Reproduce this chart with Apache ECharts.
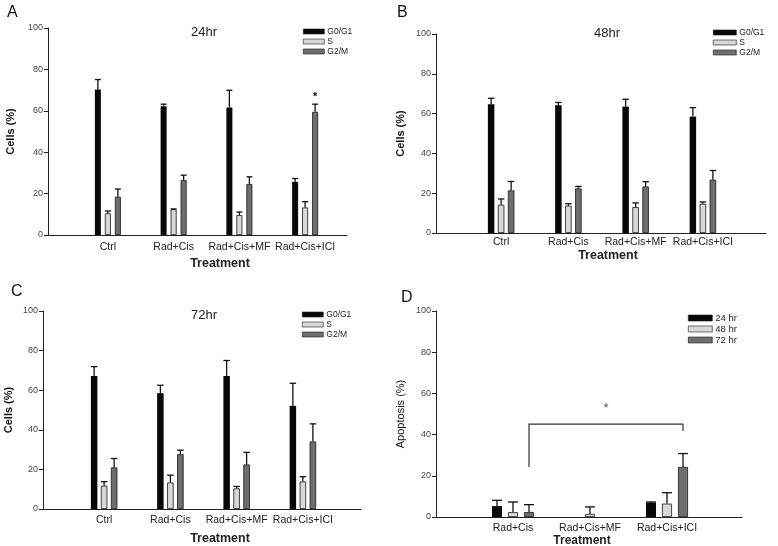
<!DOCTYPE html>
<html>
<head>
<meta charset="utf-8">
<script src="https://cdn.jsdelivr.net/npm/echarts@6/dist/echarts.min.js"></script>
<style>
html, body { margin: 0; padding: 0; background: #fff; }
#main { width: 778px; height: 546px; }
</style>
</head>
<body>
<div id="main"></div>
<script>
var cats = ['Ctrl', 'Rad+Cis', 'Rad+Cis+MF', 'Rad+Cis+ICI'];
var phases = ['G0/G1', 'S', 'G2/M'];

// cell cycle, mean and mean+error (top of whisker)
var g1_24 = [70.3, 62.2, 61.6, 25.7];
var g1_24_top = [75.1, 63.2, 69.9, 27.3];
var s_24 = [10.5, 12.4, 9.6, 13.3];
var s_24_top = [11.6, 12.6, 11.1, 16.1];
var g2_24 = [18.5, 26.5, 24.6, 59.5];
var g2_24_top = [22.2, 28.9, 28.1, 63.2];
var g2_24_sig = ['', '', '', '*'];

var g1_48 = [64.7, 64.2, 63.5, 58.5];
var g1_48_top = [67.7, 65.6, 67.2, 63.0];
var s_48 = [14.2, 13.7, 13.0, 14.7];
var s_48_top = [17.1, 14.7, 15.1, 15.6];
var g2_48 = [21.4, 22.4, 23.4, 26.8];
var g2_48_top = [25.9, 23.4, 25.8, 31.4];

var g1_72 = [67.2, 58.5, 67.2, 52.1];
var g1_72_top = [71.9, 62.5, 75.0, 63.5];
var s_72 = [11.8, 13.4, 10.4, 13.9];
var s_72_top = [13.8, 17.1, 11.4, 16.3];
var g2_72 = [21.0, 27.7, 22.5, 34.1];
var g2_72_top = [25.5, 29.7, 28.6, 43.0];

// apoptosis
var dCats = ['Rad+Cis', 'Rad+Cis+MF', 'Rad+Cis+ICI'];
var times = ['24 hr', '48 hr', '72 hr'];
var apo24 = [5.3, null, 7.0];
var apo24_top = [8.1, null, 7.3];
var apo48 = [2.4, 1.5, 6.5];
var apo48_top = [7.3, 4.9, 11.8];
var apo72 = [2.4, null, 24.3];
var apo72_top = [6.0, null, 30.8];
var bracketCats = [0, 2];      // Rad+Cis 72hr -> Rad+Cis+ICI 72hr
var bracketLevels = [24.3, 45.1, 41.7, 52.7]; // left foot, bar, right foot, star

var fills = ['#080808', '#d8d8d8', '#6e6e6e'];
var font = 'Liberation Sans, Arial, sans-serif';

var myChart = echarts.init(document.getElementById('main'));

var grids = [], xAxes = [], yAxes = [], series = [];

// frame grid holds the y axis and x axis line, bars grid holds the groups
function addPanel(p) {
    var gf = grids.length;
    grids.push({ left: p.left, top: p.top, width: p.width, height: p.height, outerBoundsMode: 'none' });
    grids.push({ left: p.barsLeft, top: p.top, width: p.barsWidth, height: p.height, outerBoundsMode: 'none' });
    xAxes.push({
        gridIndex: gf, type: 'category', data: [''],
        axisLine: { lineStyle: { color: '#222', width: 1 } },
        axisTick: { show: false }, axisLabel: { show: false }
    });
    yAxes.push({
        gridIndex: gf, type: 'value', min: 0, max: 100, interval: 20,
        axisLine: { show: true, lineStyle: { color: '#222', width: 1 } },
        axisTick: { show: true, length: 4, lineStyle: { color: '#222' } },
        axisLabel: { fontSize: 9, color: '#444', margin: 5, fontFamily: font },
        splitLine: { show: false },
        name: p.yName, nameLocation: 'middle', nameGap: p.yGap,
        nameTextStyle: { fontSize: 11, fontWeight: 'bold', color: '#111', fontFamily: font }
    });
    xAxes.push({
        gridIndex: gf + 1, type: 'category', data: p.cats,
        axisLine: { show: false }, axisTick: { show: false },
        axisLabel: { interval: 0, fontSize: 10.5, color: '#222', margin: p.labelMargin, fontFamily: font },
        name: 'Treatment', nameLocation: 'middle', nameGap: p.nameGap,
        nameTextStyle: { fontSize: p.nameSize || 12.5, fontWeight: 'bold', color: '#222', fontFamily: font, padding: p.namePad }
    });
    yAxes.push({ gridIndex: gf + 1, type: 'value', min: 0, max: 100, show: false });

    var n = p.groups.length;
    p.groups.forEach(function (g, k) {
        var offset = (k - (n - 1) / 2) * (p.barW + p.gap);
        series.push({
            name: g.name, type: 'bar', xAxisIndex: gf + 1, yAxisIndex: gf + 1,
            barWidth: p.barW, barGap: (p.gap / p.barW * 100) + '%',
            itemStyle: { color: fills[k], borderColor: '#1a1a1a', borderWidth: k === 0 ? 0 : 0.8 },
            data: g.mean, z: 2
        });
        var errData = [];
        g.mean.forEach(function (m, i) {
            if (m != null) errData.push([i, m, g.top[i]]);
        });
        series.push({
            type: 'custom', xAxisIndex: gf + 1, yAxisIndex: gf + 1, z: 3,
            data: errData, silent: true,
            renderItem: function (params, api) {
                var b = api.coord([api.value(0), api.value(1)]);
                var t = api.coord([api.value(0), api.value(2)]);
                var x = b[0] + offset;
                var half = p.barW / 2;
                var kids = [
                    { type: 'line', shape: { x1: x, y1: b[1], x2: x, y2: t[1] }, style: { stroke: '#111', lineWidth: 1.3 } },
                    { type: 'line', shape: { x1: x - half, y1: t[1], x2: x + half, y2: t[1] }, style: { stroke: '#111', lineWidth: 1.3 } }
                ];
                var s = g.sig ? g.sig[api.value(0)] : '';
                if (s) {
                    kids.push({ type: 'text', style: { text: s, x: x, y: t[1] - 2, fontSize: 11, fontWeight: 'bold',
                        fill: '#111', align: 'center', verticalAlign: 'bottom', fontFamily: font } });
                }
                return { type: 'group', children: kids };
            }
        });
    });
    return gf + 1;
}

addPanel({
    left: 48, top: 28, width: 299, height: 207, barsLeft: 75, barsWidth: 263,
    cats: cats, yName: 'Cells (%)', yGap: 32, labelMargin: 7, nameGap: 22, namePad: [0, 0, 0, 27],
    barW: 6, gap: 4,
    groups: [
        { name: 'G0/G1', mean: g1_24, top: g1_24_top },
        { name: 'S', mean: s_24, top: s_24_top },
        { name: 'G2/M', mean: g2_24, top: g2_24_top, sig: g2_24_sig }
    ]
});
addPanel({
    left: 436, top: 34, width: 330, height: 199, barsLeft: 467.5, barsWidth: 269,
    cats: cats, yName: 'Cells (%)', yGap: 30, labelMargin: 4, nameGap: 14, namePad: [0, 0, 0, 12],
    barW: 6.5, gap: 3.5,
    groups: [
        { name: 'G0/G1', mean: g1_48, top: g1_48_top },
        { name: 'S', mean: s_48, top: s_48_top },
        { name: 'G2/M', mean: g2_48, top: g2_48_top }
    ]
});
addPanel({
    left: 43, top: 311, width: 318, height: 198, barsLeft: 71, barsWidth: 265,
    cats: cats, yName: 'Cells (%)', yGap: 29, labelMargin: 6, nameGap: 23, namePad: [0, 0, 0, 33],
    barW: 6.5, gap: 3.5,
    groups: [
        { name: 'G0/G1', mean: g1_72, top: g1_72_top },
        { name: 'S', mean: s_72, top: s_72_top },
        { name: 'G2/M', mean: g2_72, top: g2_72_top }
    ]
});
var dBars = addPanel({
    left: 436, top: 311, width: 306, height: 206, barsLeft: 474.5, barsWidth: 231,
    cats: dCats, yName: 'Apoptosis (%)', yGap: 30, labelMargin: 6, nameGap: 17, namePad: [0, 16, 0, 0], nameSize: 12,
    barW: 10, gap: 6,
    groups: [
        { name: '24 hr', mean: apo24, top: apo24_top },
        { name: '48 hr', mean: apo48, top: apo48_top },
        { name: '72 hr', mean: apo72, top: apo72_top }
    ]
});
yAxes[yAxes.length - 2].nameTextStyle.fontWeight = 'normal';

// significance bracket in panel D, drawn on the 72 hr bars
series.push({
    type: 'custom', xAxisIndex: dBars, yAxisIndex: dBars, z: 4, silent: true,
    data: [[bracketCats[0], bracketCats[1]]],
    renderItem: function (params, api) {
        var off = 16;
        var l0 = api.coord([bracketCats[0], bracketLevels[0]]);
        var l1 = api.coord([bracketCats[0], bracketLevels[1]]);
        var r1 = api.coord([bracketCats[1], bracketLevels[1]]);
        var r0 = api.coord([bracketCats[1], bracketLevels[2]]);
        var st = api.coord([(bracketCats[0] + bracketCats[1]) / 2, bracketLevels[3]]);
        var ls = { stroke: '#333', lineWidth: 1.2, fill: null };
        return { type: 'group', children: [
            { type: 'polyline', shape: { points: [[l0[0] + off, l0[1]], [l1[0] + off, l1[1]], [r1[0] + off, r1[1]], [r0[0] + off, r0[1]]] }, style: ls },
            { type: 'text', style: { text: '*', x: st[0] + off, y: st[1], fontSize: 13, fill: '#555',
                align: 'center', verticalAlign: 'middle', fontFamily: font } }
        ] };
    }
});

function legendAt(names, left, top, w, h, size) {
    return {
        data: names, orient: 'vertical', left: left, top: top, icon: 'rect',
        itemWidth: w, itemHeight: h, itemGap: 1, padding: 0,
        itemStyle: { borderWidth: 0.6 },
        textStyle: { fontSize: size, color: '#222', padding: [0, 0, 0, -2], fontFamily: font }
    };
}

var option = {
    animation: false,
    backgroundColor: '#fff',
    title: [
        { text: 'A', left: 2, top: 0, textStyle: { fontSize: 16, fontWeight: 'normal', color: '#111', fontFamily: font } },
        { text: 'B', left: 392, top: 0, textStyle: { fontSize: 16, fontWeight: 'normal', color: '#111', fontFamily: font } },
        { text: 'C', left: 6, top: 279, textStyle: { fontSize: 16, fontWeight: 'normal', color: '#111', fontFamily: font } },
        { text: 'D', left: 396, top: 285, textStyle: { fontSize: 16, fontWeight: 'normal', color: '#111', fontFamily: font } },
        { text: '24hr', left: 191, top: 26, padding: 0, textStyle: { fontSize: 13, fontWeight: 'normal', color: '#222', fontFamily: font } },
        { text: '48hr', left: 594, top: 27, padding: 0, textStyle: { fontSize: 13, fontWeight: 'normal', color: '#222', fontFamily: font } },
        { text: '72hr', left: 191, top: 309, padding: 0, textStyle: { fontSize: 13, fontWeight: 'normal', color: '#222', fontFamily: font } }
    ],
    legend: [
        legendAt(phases, 303, 27, 21, 5, 8.5),
        legendAt(phases, 713, 28, 23, 5, 8.5),
        legendAt(phases, 302, 310, 21, 5, 8.5),
        legendAt(times, 688, 313, 24, 6, 9.5)
    ],
    grid: grids,
    xAxis: xAxes,
    yAxis: yAxes,
    series: series
};
myChart.setOption(option);
window.addEventListener('resize', myChart.resize);
</script>
</body>
</html>
